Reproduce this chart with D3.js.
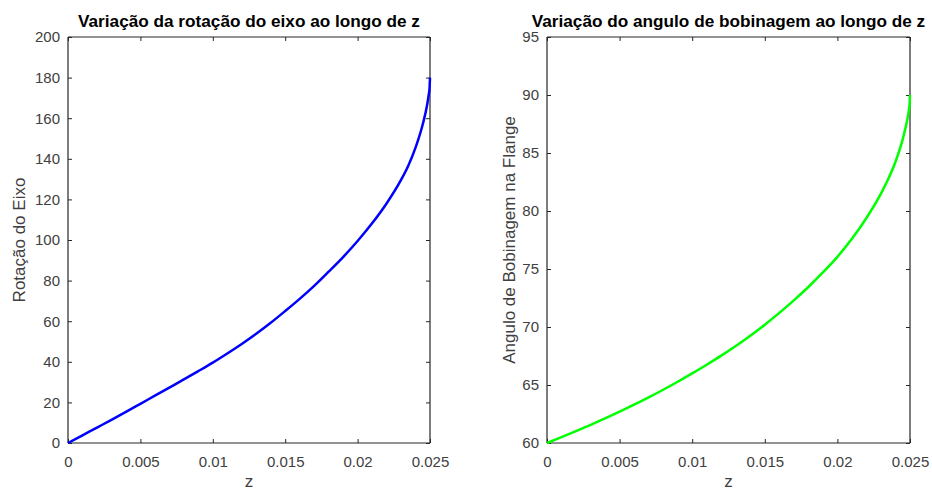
<!DOCTYPE html>
<html>
<head>
<meta charset="utf-8">
<script src="https://cdn.jsdelivr.net/npm/d3@7"></script>
<style>
  body { margin: 0; background: #fff; }
  svg { font-family: "Liberation Sans", Arial, sans-serif; }
  .tick text { fill: #404040; font-size: 15px; }
</style>
</head>
<body>
<div class="chart"></div>
<script>
// data
var zValues = [0, 0.001, 0.002, 0.003, 0.004, 0.005, 0.006, 0.007, 0.008, 0.009,
  0.01, 0.011, 0.012, 0.013, 0.014, 0.015, 0.016, 0.017, 0.018, 0.019,
  0.02, 0.021, 0.022, 0.023, 0.0235, 0.024, 0.0245, 0.0248, 0.0249, 0.02497, 0.025];
var rotacao = [0, 3.8, 7.6, 11.4, 15.3, 19.3, 23.3, 27.3, 31.3, 35.4,
  39.6, 44.1, 48.8, 53.8, 59.2, 65.0, 71.0, 77.4, 84.4, 91.6,
  99.5, 108.2, 118.0, 129.6, 136.6, 145.5, 157.0, 166.5, 171, 175, 180];
var angulo = [60, 60.5, 61.02, 61.56, 62.12, 62.7, 63.3, 63.93, 64.59, 65.28,
  66.0, 66.75, 67.53, 68.36, 69.25, 70.2, 71.22, 72.3, 73.45, 74.7,
  76.05, 77.6, 79.4, 81.5, 82.75, 84.25, 86.2, 87.8, 88.5, 89.2, 90];

var xTicks = [0, 0.005, 0.01, 0.015, 0.02, 0.025];
var yTicksLeft = [0, 20, 40, 60, 80, 100, 120, 140, 160, 180, 200];
var yTicksRight = [60, 65, 70, 75, 80, 85, 90, 95];

var svgWidth = 932;
var svgHeight = 490;

var svg = d3.select(".chart")
  .append("svg")
  .attr("width", svgWidth)
  .attr("height", svgHeight);

// one subplot, MATLAB style box with inward ticks
function drawPanel(opts) {
  var x = d3.scaleLinear().domain([0, 0.025]).range([opts.left, opts.right]);
  var y = d3.scaleLinear().domain(opts.yDomain).range([opts.bottom, opts.top]);
  var axisColor = "#262626";

  var bottomAxis = d3.axisBottom(x).tickValues(xTicks).tickSize(-4).tickPadding(13)
    .tickFormat(d => String(+d.toFixed(3)));
  var topAxis = d3.axisTop(x).tickValues(xTicks).tickSize(-4).tickFormat("");
  var leftAxis = d3.axisLeft(y).tickValues(opts.yTicks).tickSize(-4).tickPadding(8);
  var rightAxis = d3.axisRight(y).tickValues(opts.yTicks).tickSize(-4).tickFormat("");

  var gb = svg.append("g").attr("transform", `translate(0, ${opts.bottom})`).call(bottomAxis);
  var gt = svg.append("g").attr("transform", `translate(0, ${opts.top})`).call(topAxis);
  var gl = svg.append("g").attr("transform", `translate(${opts.left}, 0)`).call(leftAxis);
  var gr = svg.append("g").attr("transform", `translate(${opts.right}, 0)`).call(rightAxis);

  // plain box lines (no outer tick ends)
  gb.select(".domain").attr("d", `M${opts.left},0H${opts.right}`);
  gt.select(".domain").attr("d", `M${opts.left},0H${opts.right}`);
  gl.select(".domain").attr("d", `M0,${opts.top}V${opts.bottom}`);
  gr.select(".domain").attr("d", `M0,${opts.top}V${opts.bottom}`);

  [gb, gt, gl, gr].forEach(function(g) {
    g.select(".domain").attr("stroke", axisColor).attr("stroke-width", 1.2);
    g.selectAll(".tick line").attr("stroke", axisColor);
  });
  gb.selectAll(".tick text").attr("font-family", null).attr("font-size", null);
  gl.selectAll(".tick text").attr("font-family", null).attr("font-size", null);

  var line = d3.line()
    .x((d, i) => x(zValues[i]))
    .y(d => y(d))
    .curve(d3.curveMonotoneX);

  svg.append("path")
    .datum(opts.values)
    .attr("fill", "none")
    .attr("stroke", opts.color)
    .attr("stroke-width", 2.5)
    .attr("d", line);

  svg.append("text")
    .attr("x", (opts.left + opts.right) / 2)
    .attr("y", 27)
    .attr("text-anchor", "middle")
    .attr("font-weight", "bold")
    .attr("font-size", "17.2px")
    .attr("fill", "#000")
    .text(opts.title);

  svg.append("text")
    .attr("x", (opts.left + opts.right) / 2)
    .attr("y", 487)
    .attr("text-anchor", "middle")
    .attr("font-size", "17px")
    .attr("fill", "#404040")
    .text("z");

  svg.append("text")
    .attr("transform", `translate(${opts.ylabelX}, ${(opts.top + opts.bottom) / 2}) rotate(-90)`)
    .attr("text-anchor", "middle")
    .attr("font-size", "17px")
    .attr("fill", "#404040")
    .text(opts.ylabel);
}

drawPanel({
  left: 68, right: 430, top: 37, bottom: 443,
  yDomain: [0, 200], yTicks: yTicksLeft,
  values: rotacao, color: "#0000ff",
  title: "Variação da rotação do eixo ao longo de z",
  ylabel: "Rotação do Eixo", ylabelX: 25
});

drawPanel({
  left: 547, right: 910, top: 37, bottom: 443,
  yDomain: [60, 95], yTicks: yTicksRight,
  values: angulo, color: "#00ff00",
  title: "Variação do angulo de bobinagem ao longo de z",
  ylabel: "Angulo de Bobinagem na Flange", ylabelX: 515
});
</script>
</body>
</html>
